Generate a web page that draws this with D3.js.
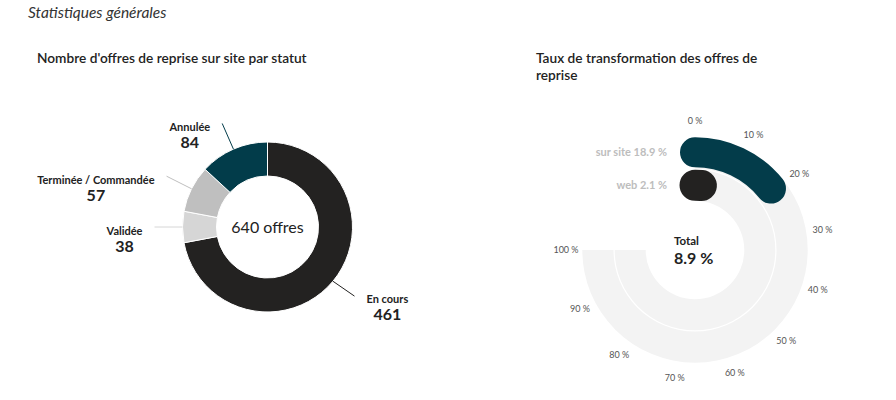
<!DOCTYPE html>
<html>
<head>
<meta charset="utf-8">
<script src="https://cdn.jsdelivr.net/npm/d3@7"></script>
<style>
  body { margin: 0; background: #fff; }
  svg { display: block; font-family: Lato, "Open Sans", sans-serif; }
</style>
</head>
<body>
<svg id="chart" width="896" height="400"></svg>
<script>
// donut: offers by status
const statusLabels = ["En cours", "Validée", "Terminée / Commandée", "Annulée"];
const statusValues = [461, 38, 57, 84];
const statusColors = ["#232221", "#d6d6d6", "#bfbfbf", "#023c4a"];

// gauge: transformation rate
const rateSeries = ["sur site", "web"];
const rateValues = [18.9, 2.1];
const rateColors = ["#033c4a", "#232221"];
const totalRate = 8.9;

const svg = d3.select("#chart");

svg.append("text")
    .attr("x", 28).attr("y", 18)
    .style("font-style", "italic")
    .style("font-size", "15.5px")
    .attr("fill", "#333")
    .text("Statistiques générales");

svg.append("text")
    .attr("x", 37).attr("y", 63)
    .style("font-size", "13.7px")
    .style("font-weight", "600")
    .attr("fill", "#222")
    .text("Nombre d'offres de reprise sur site par statut");

const rightTitle = svg.append("text")
    .style("font-size", "13.7px")
    .style("font-weight", "600")
    .attr("fill", "#222");
rightTitle.append("tspan").attr("x", 536).attr("y", 63).text("Taux de transformation des offres de");
rightTitle.append("tspan").attr("x", 536).attr("y", 80).text("reprise");


// ---- donut ----
const donut = svg.append("g").attr("transform", "translate(267.5,227)");
const total = d3.sum(statusValues);

const pie = d3.pie().sort(null).value(d => d.value);
const arcs = pie(statusLabels.map((l, i) => ({ label: l, value: statusValues[i], color: statusColors[i] })));

const arc = d3.arc().innerRadius(51).outerRadius(85);

donut.selectAll("path.slice")
    .data(arcs)
    .enter()
    .append("path")
      .attr("class", "slice")
      .attr("d", arc)
      .attr("fill", d => d.data.color)
      .attr("stroke", "#fff")
      .attr("stroke-width", 1);

donut.append("text")
    .attr("text-anchor", "middle")
    .attr("dy", "0.35em")
    .style("font-size", "16px")
    .attr("fill", "#222")
    .text(`${total} offres`);

const pt = (a, r) => [Math.sin(a) * r, -Math.cos(a) * r];

const labels = donut.selectAll("g.lbl")
    .data(arcs)
    .enter()
    .append("g")
      .attr("class", "lbl");

labels.append("line")
    .each(function(d) {
      const m = (d.startAngle + d.endAngle) / 2;
      const p0 = pt(m, 85), p1 = pt(m, 113);
      d3.select(this)
        .attr("x1", p0[0]).attr("y1", p0[1])
        .attr("x2", p1[0]).attr("y2", p1[1] - (p1[0] > 0 ? 3 : 0));
    })
    .attr("stroke", d => d.data.color)
    .attr("stroke-width", 1);

labels.each(function(d) {
  const m = (d.startAngle + d.endAngle) / 2;
  const p1 = pt(m, 113);
  const right = p1[0] > 0;
  const y0 = p1[1] - (right ? 4 : 0);
  const g = d3.select(this).append("g");
  const name = g.append("text")
      .attr("text-anchor", "middle")
      .attr("y", y0 + 8)
      .style("font-size", "11px")
      .style("font-weight", "700")
      .attr("fill", "#222")
      .text(d.data.label);
  const val = g.append("text")
      .attr("text-anchor", "middle")
      .attr("y", y0 + 25)
      .style("font-size", "16px")
      .style("font-weight", "700")
      .attr("fill", "#222")
      .text(d.data.value);
  const w = Math.max(name.node().getComputedTextLength(), val.node().getComputedTextLength());
  const x = right ? p1[0] + 12 + w / 2 : p1[0] - 12 - w / 2;
  name.attr("x", x);
  val.attr("x", x);
});


// ---- gauge ----
const cx = 695, cy = 250;
const gauge = svg.append("g").attr("transform", `translate(${cx},${cy})`);
const angle = d3.scaleLinear().domain([0, 100]).range([0, 1.5 * Math.PI]);

const tracks = [
  { inner: 81.5, outer: 112.7, mid: 97.7, width: 30 },
  { inner: 49.3, outer: 80.3, mid: 64.8, width: 31 }
];

gauge.selectAll("path.track")
    .data(tracks)
    .enter()
    .append("path")
      .attr("class", "track")
      .attr("d", d => d3.arc()({ innerRadius: d.inner, outerRadius: d.outer, startAngle: angle(0), endAngle: angle(100) }))
      .attr("fill", "#f3f3f3");

gauge.selectAll("path.bar")
    .data(rateValues)
    .enter()
    .append("path")
      .attr("class", "bar")
      .attr("d", (v, i) => {
        const p = d3.path();
        p.arc(0, 0, tracks[i].mid, angle(0) - Math.PI / 2, angle(v) - Math.PI / 2);
        return p.toString();
      })
      .attr("fill", "none")
      .attr("stroke", (v, i) => rateColors[i])
      .attr("stroke-width", (v, i) => tracks[i].width)
      .attr("stroke-linecap", "round");

gauge.selectAll("text.tick")
    .data(angle.ticks(10))
    .enter()
    .append("text")
      .attr("class", "tick")
      .attr("x", d => pt(angle(d), 129)[0])
      .attr("y", d => pt(angle(d), 129)[1])
      .attr("text-anchor", "middle")
      .attr("dy", "0.35em")
      .style("font-size", "9px")
      .attr("fill", "#555")
      .text(d => `${d} %`);

gauge.selectAll("text.series")
    .data(rateValues)
    .enter()
    .append("text")
      .attr("class", "series")
      .attr("x", -28)
      .attr("y", (v, i) => -tracks[i].mid)
      .attr("dy", "0.35em")
      .attr("text-anchor", "end")
      .style("font-size", "11px")
      .style("font-weight", "700")
      .attr("fill", "#bdbdbd")
      .text((v, i) => `${rateSeries[i]} ${v} %`);

gauge.append("text")
    .attr("x", -21).attr("y", -5)
    .style("font-size", "11.5px")
    .style("font-weight", "700")
    .attr("fill", "#222")
    .text("Total");

gauge.append("text")
    .attr("x", -21).attr("y", 14)
    .style("font-size", "16px")
    .style("font-weight", "700")
    .attr("fill", "#222")
    .text(`${totalRate} %`);
</script>
</body>
</html>
